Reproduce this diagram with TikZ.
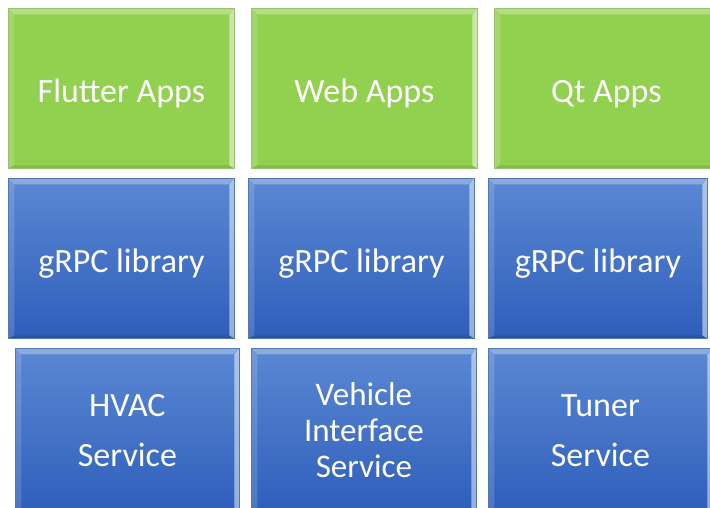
\documentclass[tikz,border=0pt]{standalone}
\usepackage{fontspec}
\setmainfont{Carlito}
\definecolor{appgreen}{HTML}{92D050}
\definecolor{greenedge}{HTML}{9DBF72}
\definecolor{bluetop}{HTML}{5B88D3}
\definecolor{bluebot}{HTML}{2E5EBB}
\definecolor{blueedge}{HTML}{5577B0}
\newcommand\tiletext[1]{\raisebox{-14pt}[0pt][0pt]{#1}}
\tikzset{
  bevel/.style={path picture={
    \fill[white,opacity=0.30] (path picture bounding box.north west) -- (path picture bounding box.north east)
      -- ([xshift=-6pt,yshift=-6pt]path picture bounding box.north east) -- ([xshift=6pt,yshift=-6pt]path picture bounding box.north west) -- cycle;
    \fill[white,opacity=0.15] (path picture bounding box.north west) -- ([xshift=6pt,yshift=-6pt]path picture bounding box.north west)
      -- ([xshift=6pt,yshift=3pt]path picture bounding box.south west) -- (path picture bounding box.south west) -- cycle;
    \fill[white,opacity=0.50] (path picture bounding box.north east) -- ([xshift=-5pt,yshift=-6pt]path picture bounding box.north east)
      -- ([xshift=-5pt,yshift=3pt]path picture bounding box.south east) -- (path picture bounding box.south east) -- cycle;
    \fill[black,opacity=0.10] (path picture bounding box.south west) -- ([xshift=6pt,yshift=3pt]path picture bounding box.south west)
      -- ([xshift=-5pt,yshift=3pt]path picture bounding box.south east) -- (path picture bounding box.south east) -- cycle;
  }},
  tile/.style={anchor=north west, inner sep=0pt, text=white, align=center, line width=0.8pt, bevel,
    font=\fontsize{34}{41}\selectfont},
  greenbox/.style={tile, fill=appgreen, draw=greenedge, minimum height=160pt},
  bluebox/.style={tile, top color=bluetop, bottom color=bluebot, draw=blueedge},
}
\begin{document}
\begin{tikzpicture}[x=1pt,y=1pt]
\useasboundingbox (0,0) rectangle (710,507);
\clip (0,0) rectangle (710,507);
% row 1
\node[greenbox, minimum width=226pt] (flutter) at (8,499) {\tiletext{Flutter Apps}};
\node[greenbox, minimum width=226pt] (web) at (251,499) {\tiletext{Web Apps}};
\node[greenbox, minimum width=224pt] (qt) at (494,499) {\tiletext{Qt Apps}};
% row 2
\node[bluebox, minimum width=226pt, minimum height=160pt] (grpc1) at (8,329) {\tiletext{gRPC library}};
\node[bluebox, minimum width=226pt, minimum height=160pt] (grpc2) at (248,329) {\tiletext{gRPC library}};
\node[bluebox, minimum width=219pt, minimum height=160pt] (grpc3) at (488,329) {\tiletext{gRPC library}};
% row 3
\node[bluebox, minimum width=224pt, minimum height=164pt, font=\fontsize{34}{50}\selectfont] (hvac) at (15,159) {HVAC\\Service};
\node[bluebox, minimum width=225pt, minimum height=164pt, font=\fontsize{33}{36}\selectfont] (vis) at (251,159) {Vehicle\\Interface\\Service};
\node[bluebox, minimum width=224pt, minimum height=164pt, font=\fontsize{34}{50}\selectfont] (tuner) at (488,159) {Tuner\\Service};
\end{tikzpicture}
\end{document}
